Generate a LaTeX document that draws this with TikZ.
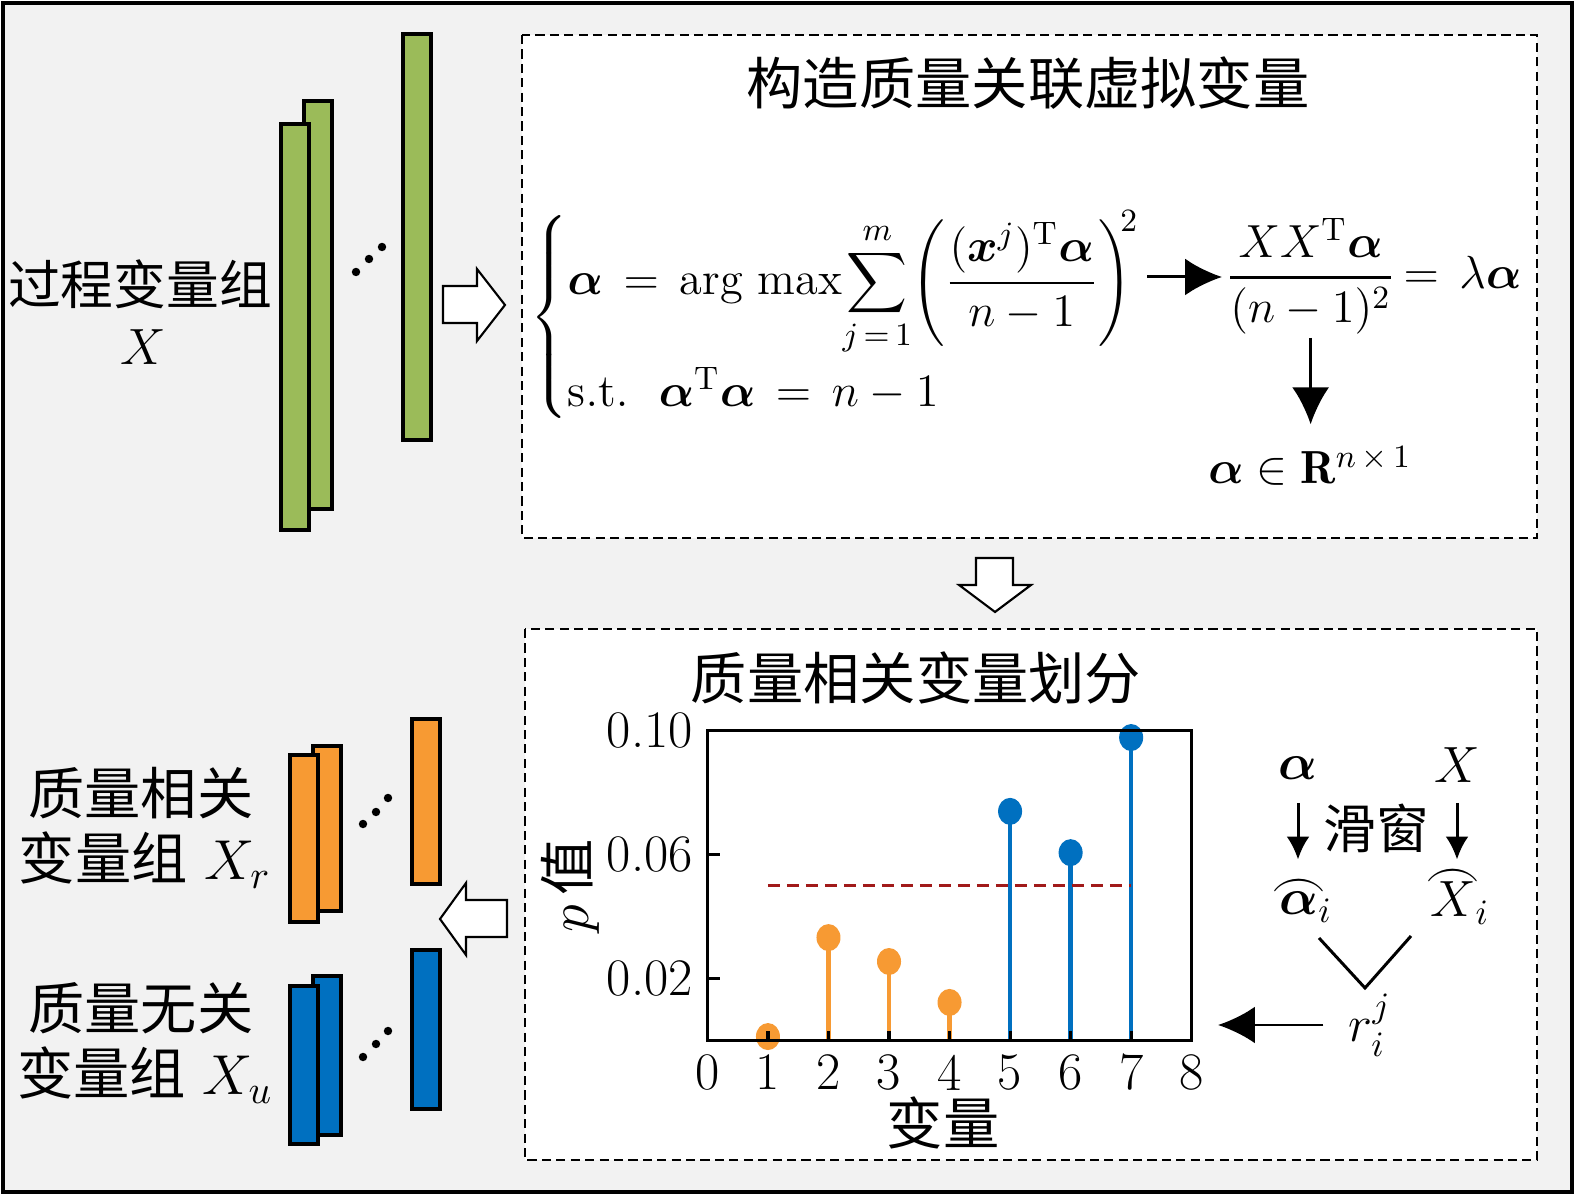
\RequirePackage{fix-cm}
\documentclass[tikz,border=0pt]{standalone}
\usepackage{amsmath,bm}
\usepackage{fontspec}
\newfontfamily\cjk{Noto Sans CJK SC}
\usetikzlibrary{arrows.meta,positioning}
\definecolor{bggray}{HTML}{F2F2F2}
\definecolor{barg}{HTML}{9BBB59}
\definecolor{baro}{HTML}{F79A33}
\definecolor{barb}{HTML}{0070C0}
\definecolor{thred}{HTML}{A11A1A}
\newcommand{\arcover}[2]{\mbox{\ooalign{$#2$\cr\hidewidth\raisebox{#1}{\scalebox{1.1}[1]{$\frown$}}\hidewidth\cr}}}
\tikzset{
  bar/.style={draw=black, line width=1pt},
  panel/.style={draw=black, fill=white, line width=0.5pt, dash pattern=on 2.6pt off 1.5pt},
  hollow/.style={draw=black, fill=white, line width=0.6pt},
  cn/.style={font=\cjk\fontsize{16}{19}\selectfont},
  cnsm/.style={font=\cjk\fontsize{15}{18}\selectfont},
  fm/.style={font=\fontsize{13.2}{16}\selectfont, inner sep=1pt},
  rm/.style={font=\fontsize{14.5}{17}\selectfont, inner sep=1pt},
  num/.style={font=\fontsize{15}{18}\selectfont, inner sep=0pt},
  small/.style={-{Latex[length=6.5pt,width=6.5pt]}, line width=0.85pt},
  stem/.style={line width=1.3pt},
}
\begin{document}
\begin{tikzpicture}[x=0.01cm, y=-0.01cm, >={Latex[length=10.5pt,width=10.5pt]}]
\useasboundingbox (0,0) rectangle (1575,1195);
\draw[fill=bggray, line width=1.2pt] (3,3) rectangle (1572,1192);
\draw[panel] (522,35) rectangle (1537,538);
\draw[panel] (525,629) rectangle (1537,1160);

\draw[bar, fill=barg] (304,101) rectangle (332,509);
\draw[bar, fill=barg] (281,124) rectangle (309,530);
\draw[bar, fill=barg] (403,34) rectangle (431,440);
\foreach \x/\y in {356/272, 369/259, 382/247} \fill (\x,\y) circle (1.2pt);

\draw[bar, fill=baro] (313,746) rectangle (341,911);
\draw[bar, fill=baro] (290,755) rectangle (318,922);
\draw[bar, fill=baro] (412,719) rectangle (440,884);
\foreach \x/\y in {363/824, 376/812, 388/798} \fill (\x,\y) circle (1.2pt);

\draw[bar, fill=barb] (313,976) rectangle (341,1135);
\draw[bar, fill=barb] (290,986) rectangle (318,1144);
\draw[bar, fill=barb] (412,950) rectangle (440,1109);
\foreach \x/\y in {363/1057, 376/1044, 388/1031} \fill (\x,\y) circle (1.2pt);

\draw[hollow] (443,286) -- (477,286) -- (477,269) -- (505,305) -- (477,341) -- (477,323) -- (443,323) -- cycle;
\draw[hollow] (976,558) -- (1013,558) -- (1013,585) -- (1031,585) -- (995,612) -- (959,585) -- (976,585) -- cycle;
\draw[hollow] (507,900) -- (466,900) -- (466,883) -- (440,919) -- (466,955) -- (466,937) -- (507,937) -- cycle;

\node[cnsm] (grp) at (140,284) {过程变量组};
\node[rm] (grpx) at (143,347) {$X$};
\node[cn] (relup) at (141,793) {质量相关};
\node[cn] (rellow) at (145,860) {变量组\hspace{0.3em}$X_r$};
\node[cn] (irrup) at (141,1008) {质量无关};
\node[cn] (irrlow) at (145,1075) {变量组\hspace{0.3em}$X_u$};

\node[cn] (ttl) at (1028,83) {构造质量关联虚拟变量};
\node[cn] (ttlb) at (916,678) {质量相关变量划分};

\node[fm, anchor=west] (sys) at (526,317) {$\left\{\begin{array}{@{}l@{}}
\bm{\alpha}\,=\,\mathrm{arg\ max}\!\displaystyle\sum_{j\,=\,1}^{m}\!\left(\genfrac{}{}{0.8pt}{0}{(\bm{x}^{j})^{\mathrm{T}}\bm{\alpha}}{n-1}\right)^{\!\!2}\\
\rule{0pt}{14.5pt}\mathrm{s.t.}\ \ \bm{\alpha}^{\mathrm{T}}\bm{\alpha}\,=\,n-1
\end{array}\right.$};
\node[fm, anchor=base west] (frac) at (1222,289) {$\genfrac{}{}{0.8pt}{0}{XX^{\mathrm{T}}\bm{\alpha}}{(n-1)^{2}}$};
\node[fm, anchor=base west] (lam) at (frac.base east) {$=\,\lambda\bm{\alpha}$};
\node[fm] (inr) at (1310,466) {$\bm{\alpha}\in\mathbf{R}^{n\,\times\,1}$};
\coordinate (sysy) at (0,277);
\draw[->, line width=0.85pt] (sys.east |- sysy) -- (sysy -| frac.west);
\draw[->, line width=0.85pt, shorten >=5pt] (frac.south) -- (frac.south |- inr.north);

\begin{scope}[xshift=7.07cm, yshift=-10.40cm, x=0.605cm, y=31cm]
\foreach \i/\v/\c in {1/0.0013/baro, 2/0.0332/baro, 3/0.0255/baro, 4/0.0123/baro, 5/0.0739/barb, 6/0.0606/barb, 7/0.0977/barb} {
  \draw[stem, \c] (\i,0) -- (\i,\v);
  \fill[\c] (\i,\v) ellipse [x radius=0.12cm, y radius=0.135cm];
}
\draw[thred, line width=0.7pt, dash pattern=on 3.4pt off 2pt] (1,0.05) -- (7,0.05);
\foreach \i in {1,...,7} \draw[line width=0.9pt] (\i,0) -- (\i,0.0032);
\foreach \v in {0.02,0.06} \draw[line width=0.9pt] (0,\v) -- (0.2,\v);
\draw[line width=0.9pt] (0,0) rectangle (8,0.1);
\foreach \i in {0,...,8} \node[num] (xl\i) at (\i,-0.0103) {\i};
\foreach \v/\n in {0.02/a, 0.06/b, 0.10/c} \node[num, anchor=east] (yl\n) at (-0.23,\v) {\v};
\end{scope}
\node[cn, rotate=90] (ylab) at (570,886) {$p$\,值};
\node[cn] (xlab) at (943,1123) {变量};

\node[rm] (ra) at (1298,768) {$\bm{\alpha}$};
\node[rm] (rx) at (1457,765) {$X$};
\node[cnsm] (win) at (1376,828) {滑窗};
\node[rm] (ha) at (1306,907) {$\arcover{0.75ex}{\bm{\alpha}}_{i}$};
\node[rm] (hx) at (1460,903) {$\arcover{1.3ex}{X}_{i}$};
\node[rm] (rij) at (1370,1025) {$r_{i}^{j}$};
\draw[small, shorten <=5.5pt, shorten >=8pt] (ra.south) -- (ra.south |- ha.north);
\draw[small, shorten <=5.5pt, shorten >=8pt] (ra.south -| rx.south) -- (ha.north -| rx.south);
\coordinate (vl) at (1319,938);
\coordinate (vb) at (1365,988);
\coordinate (vr) at (1411,936);
\draw[line width=0.85pt] (vl) -- (vb) -- (vr);
\coordinate (rtip) at (1218,1027);
\draw[->, line width=0.85pt, shorten <=6pt] (rij.west) -- (rij.west -| rtip);
\end{tikzpicture}
\end{document}
